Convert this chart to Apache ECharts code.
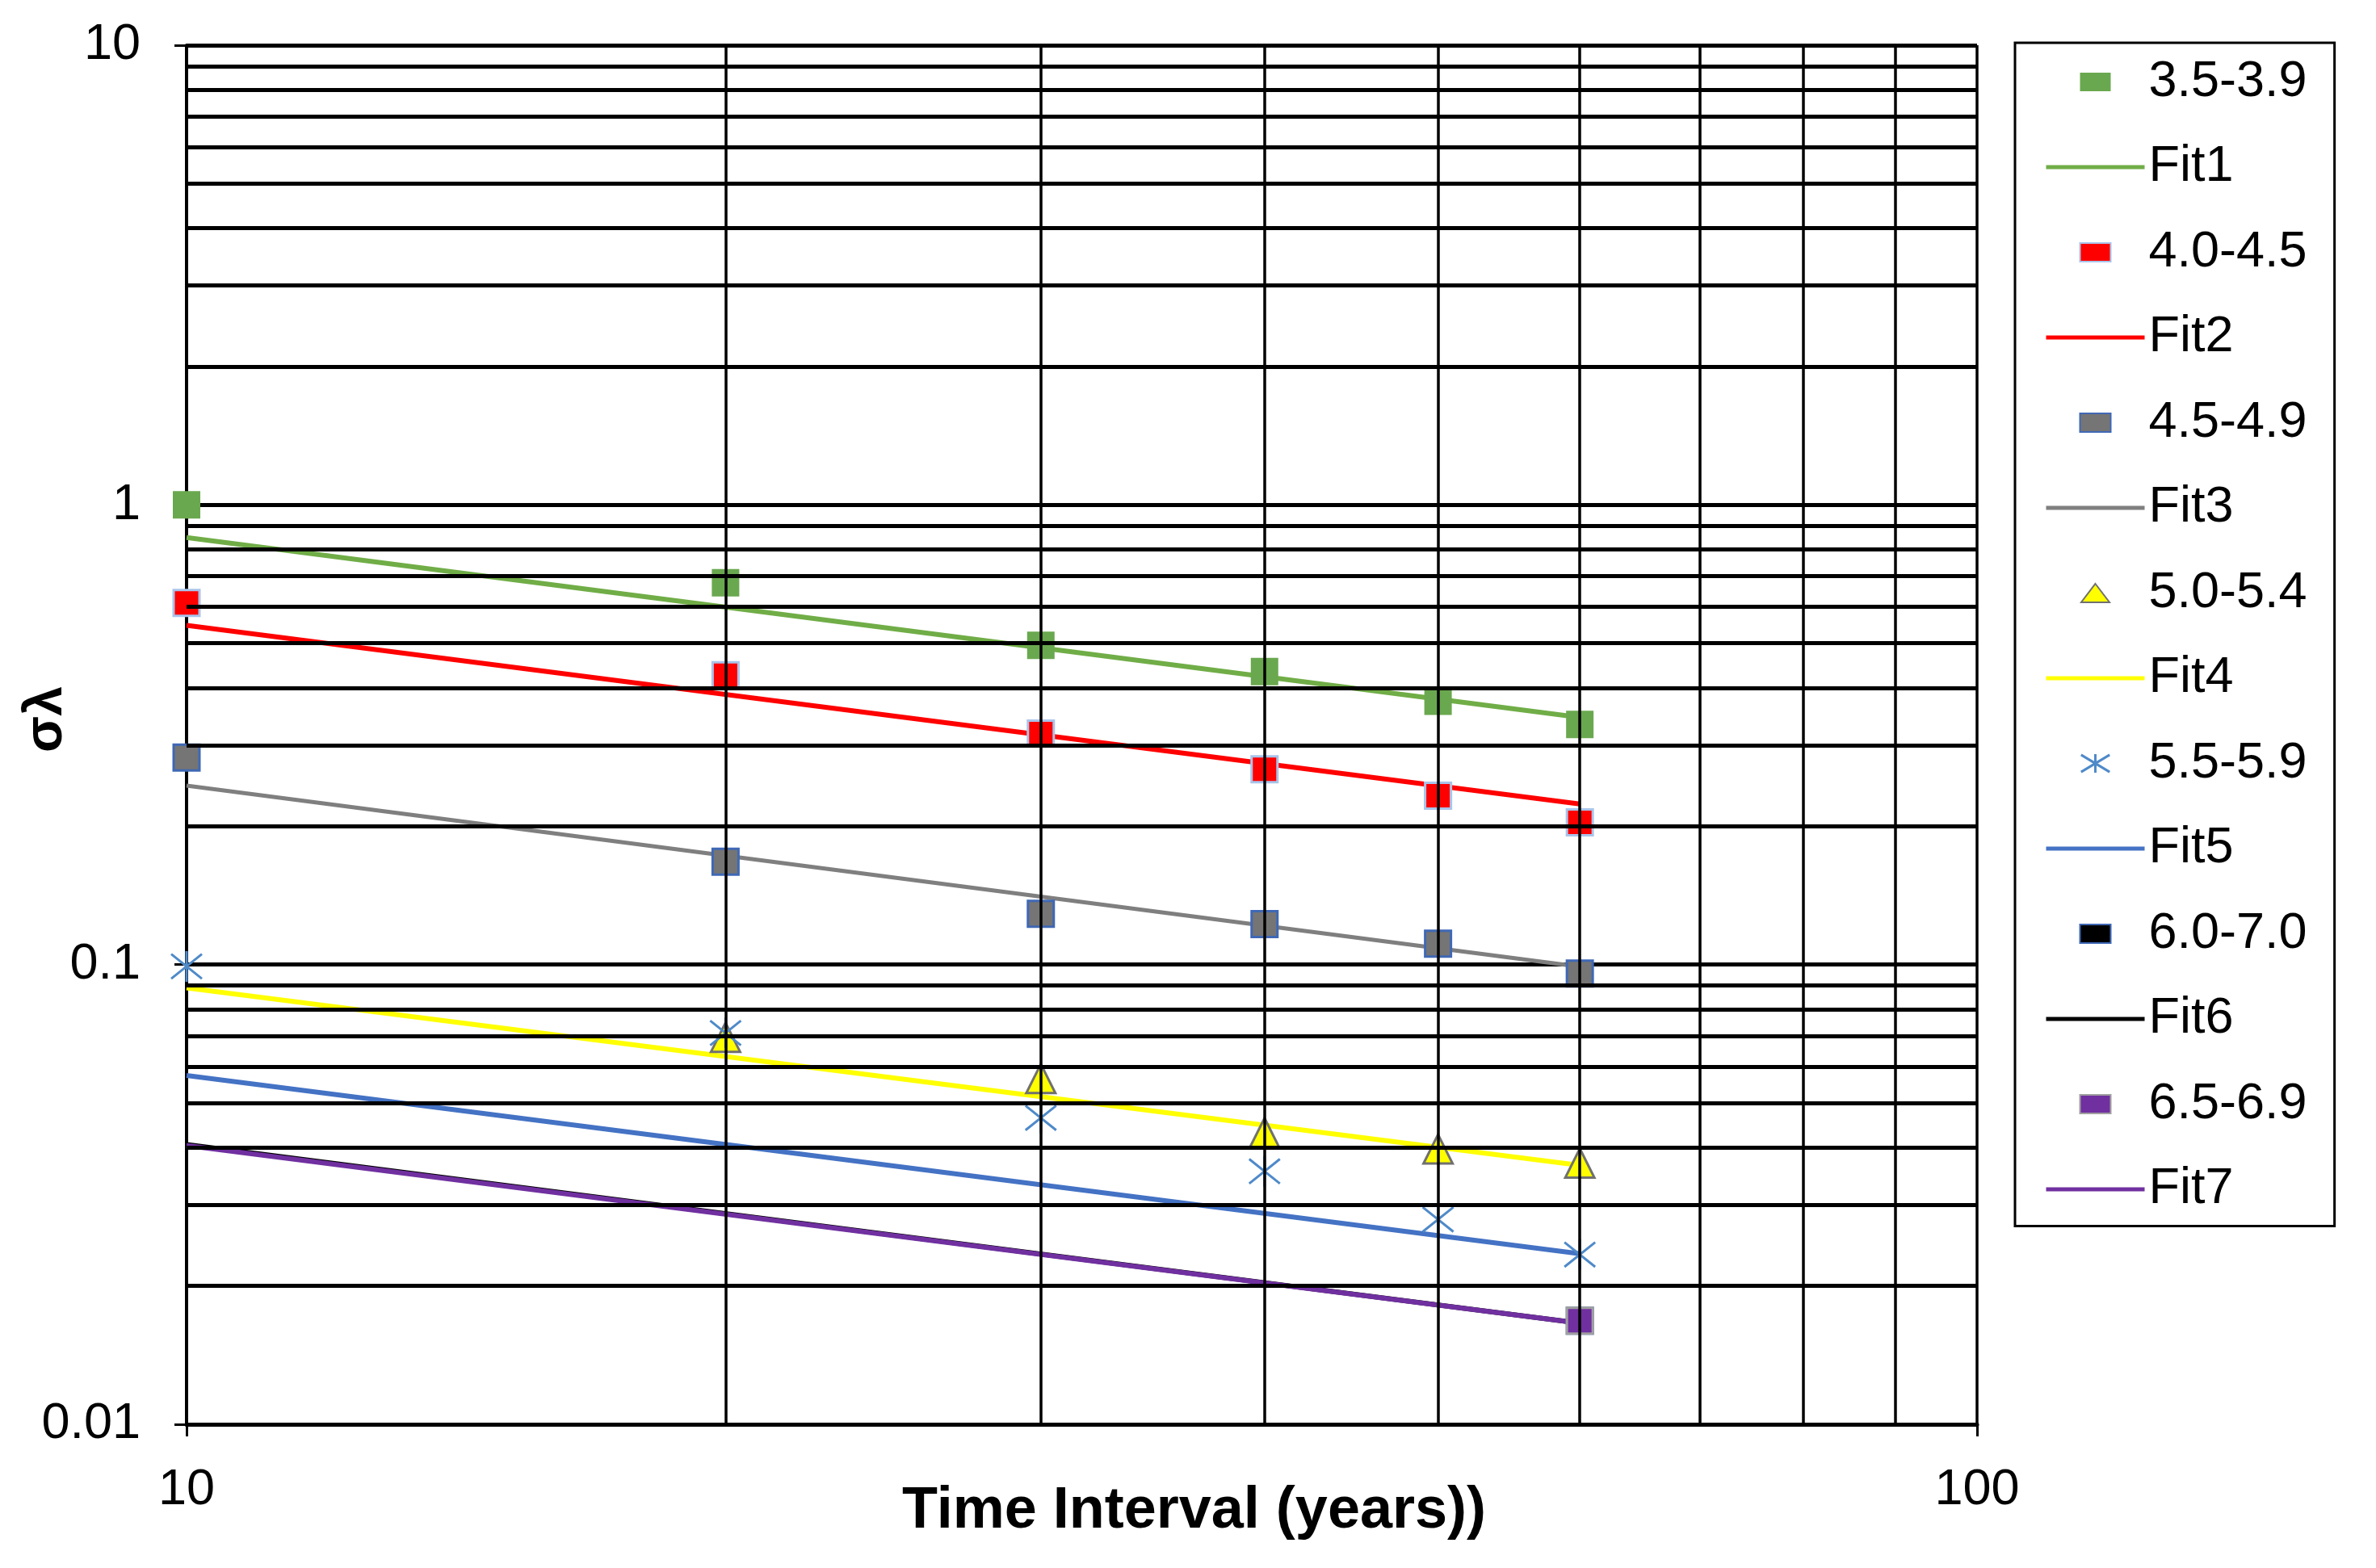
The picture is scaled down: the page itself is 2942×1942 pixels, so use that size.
<!DOCTYPE html>
<html>
<head>
<meta charset="utf-8">
<script src="https://cdn.jsdelivr.net/npm/echarts@6/dist/echarts.min.js"></script>
<style>
html,body{margin:0;padding:0;background:#fff;}
#chart{width:2942px;height:1942px;}
</style>
</head>
<body>
<div id="chart"></div>
<script>
// ---- data ----
const xYears = [10, 20, 30, 40, 50, 60];
const xYearsNo10 = [20, 30, 40, 50, 60];
const fitX = [10, 60];

const s35_39 = [1.0, 0.677, 0.495, 0.434, 0.374, 0.333];
const fit1 = [0.849, 0.345];
const s40_45 = [0.612, 0.426, 0.318, 0.266, 0.233, 0.204];
const fit2 = [0.547, 0.2236];
const s45_49 = [0.282, 0.1675, 0.129, 0.1225, 0.111, 0.0956];
const fit3 = [0.245, 0.099];
const s50_54 = [0.0695, 0.0565, 0.0431, 0.0397, 0.0370];
const fit4 = [0.089, 0.0366];
const s55_59 = [0.0991, 0.0710, 0.0464, 0.0355, 0.0279, 0.0234];
const fit5 = [0.0574, 0.0235];
const s60_70 = [0.0168];
const s60_70X = [60];
const fit6 = [0.0406, 0.0166];
const s65_69 = [0.0168];
const s65_69X = [60];
const fit7 = [0.0404, 0.0166];

const legendNames = ['3.5-3.9','Fit1','4.0-4.5','Fit2','4.5-4.9','Fit3','5.0-5.4','Fit4',
                     '5.5-5.9','Fit5','6.0-7.0','Fit6','6.5-6.9','Fit7'];

const yMinorGridValues = [0.02,0.03,0.04,0.05,0.06,0.07,0.08,0.09,
                          0.2,0.3,0.4,0.5,0.6,0.7,0.8,0.9,
                          2,3,4,5,6,7,8,9];
const xMinorGridValues = [20,30,40,50,60,70,80,90];

function pairs(xs, ys){ return xs.map((x,i)=>[x, ys[i]]); }

const FONT = 'Liberation Sans';
const starPath = 'path://M0,-10L0,10M-10,-8L10,8M-10,8L10,-8';
const legendRect = 'path://M0,0L38,0L38,23L0,23Z';
const legendTri = 'path://M17.5,0L35,23L0,23Z';
const legendStar = 'path://M0,-13L0,13M-20,-12L20,12M-20,12L20,-12';

function scatter(name, xs, ys, symbol, size, color, border, bw){
  return {
    name, type:'scatter', data: pairs(xs, ys), symbol, symbolSize: size, z: 4,
    itemStyle:{color, borderColor:border, borderWidth:bw, opacity:1},
    emphasis:{disabled:true},
    animation:false
  };
}
function fit(name, ys, color, w, z){
  return {
    name, type:'line', data: pairs(fitX, ys), symbol:'none', showSymbol:false, z: z||3,
    lineStyle:{color, width:w}, itemStyle:{color}, animation:false,
    emphasis:{disabled:true}
  };
}

const legendData = legendNames.map(function(n){
  if (n.indexOf('Fit') === 0) {
    return {name:n, itemStyle:{color:'rgba(0,0,0,0)', borderColor:'rgba(0,0,0,0)', borderWidth:0}};
  }
  if (n === '5.0-5.4') return {name:n, icon:legendTri};
  if (n === '5.5-5.9') return {name:n, icon:legendStar, itemStyle:{borderWidth:3}};
  return {name:n, icon:legendRect};
});

const chart = echarts.init(document.getElementById('chart'), null, {renderer:'canvas'});
chart.setOption({
  backgroundColor:'#ffffff',
  animation:false,
  grid:{left:231, right:494, top:56, bottom:178, outerBoundsMode:'none', containLabel:false},
  legend:{
    orient:'vertical', left:2495, top:53,
    padding:[17,34,14,36],
    borderColor:'#000', borderWidth:3,
    itemWidth:122, itemHeight:23, itemGap:42.5,
    symbolKeepAspect:true,
    lineStyle:{width:5},
    textStyle:{fontFamily:FONT, fontSize:63, color:'#000', lineHeight:62},
    selectedMode:false,
    data: legendData
  },
  xAxis:{
    type:'log', logBase:10, min:10, max:100,
    name:'Time Interval (years))', nameLocation:'middle', nameGap:72, nameMoveOverlap:false,
    nameTextStyle:{fontFamily:FONT, fontSize:72, fontWeight:'bold', color:'#000', padding:[0,0,0,278]},
    axisLine:{show:true, lineStyle:{color:'#000', width:5}},
    axisTick:{show:true, length:15, lineStyle:{color:'#000', width:3}},
    axisLabel:{fontFamily:FONT, fontSize:63, color:'#000', margin:50},
    splitLine:{show:true, lineStyle:{color:'#000', width:3.5}}
  },
  yAxis:{
    type:'log', logBase:10, min:0.01, max:10,
    name:'σλ', nameLocation:'middle', nameRotate:90, nameGap:140, nameMoveOverlap:false,
    nameTextStyle:{fontFamily:FONT, fontSize:66, fontWeight:'bold', color:'#000', padding:[0,0,0,38]},
    axisLine:{show:true, lineStyle:{color:'#000', width:4}},
    axisTick:{show:true, length:15, lineStyle:{color:'#000', width:3}},
    axisLabel:{fontFamily:FONT, fontSize:63, color:'#000', margin:57,
      formatter:function(v){ return String(+v.toPrecision(3)); }},
    splitLine:{show:true, lineStyle:{color:'#000', width:5}}
  },
  series:[
    {
      name:'grid', type:'line', data:[], z:1, silent:true, animation:false,
      markLine:{
        silent:true, symbol:['none','none'], animation:false,
        label:{show:false},
        lineStyle:{color:'#000', width:5, type:'solid'},
        emphasis:{disabled:true},
        data: yMinorGridValues.map(v=>({yAxis:v}))
          .concat(xMinorGridValues.map(v=>({xAxis:v, lineStyle:{width:3.5}})))
      }
    },
    scatter('3.5-3.9', xYears, s35_39, 'rect', 34, '#6aa84f', '#6aa84f', 0),
    fit('Fit1', fit1, '#70ad47', 6),
    scatter('4.0-4.5', xYears, s40_45, 'rect', 32, '#ff0000', '#a9c4ea', 3),
    fit('Fit2', fit2, '#ff0000', 6),
    scatter('4.5-4.9', xYears, s45_49, 'rect', 32, '#757575', '#3f68b5', 3),
    fit('Fit3', fit3, '#7f7f7f', 5),
    scatter('5.0-5.4', xYearsNo10, s50_54, 'triangle', 36, '#ffff00', '#707070', 3),
    fit('Fit4', fit4, '#ffff00', 6),
    scatter('5.5-5.9', xYears, s55_59, starPath, 38, 'rgba(0,0,0,0)', '#4f8ac9', 3),
    fit('Fit5', fit5, '#4472c4', 6),
    scatter('6.0-7.0', s60_70X, s60_70, 'rect', 32, '#000000', '#3f68b5', 3),
    fit('Fit6', fit6, '#000000', 6, 3),
    scatter('6.5-6.9', s65_69X, s65_69, 'rect', 32, '#7030a0', '#a0a0a0', 3),
    fit('Fit7', fit7, '#7030a0', 6, 3.5)
  ]
});
</script>
</body>
</html>
